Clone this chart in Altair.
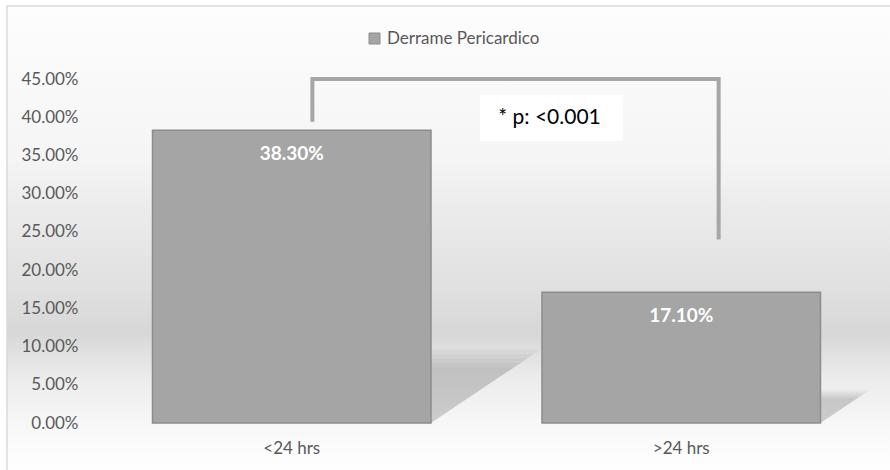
import altair as alt
import pandas as pd

# ---- data -------------------------------------------------------------
categories = ["<24 hrs", ">24 hrs"]
values = [0.383, 0.171]
series_name = "Derrame Pericardico"
y_ticks = [0, 0.05, 0.10, 0.15, 0.20, 0.25, 0.30, 0.35, 0.40, 0.45]

# significance bracket (x in category units: 0..2, y in proportion)
bracket_x = [0.553, 0.553, 1.596, 1.596]
bracket_y = [0.394, 0.45, 0.45, 0.24]
p_label = "* p: <0.001"
p_box = {"x": 0.983, "x2": 1.350, "y": 0.429, "y2": 0.369}
p_text_pos = {"x": 1.030, "y": 0.399}

# ---- styling ------------------------------------------------------------
FONT = "Lato"
BAR_FILL = "#a5a5a5"
BAR_STROKE = "#8c8c8c"
TEXT_GREY = "#595959"
PAD_INNER = 0.285
PAD_OUTER = PAD_INNER / 2
SHADOW_RISE = 0.22    # shadow height as a share of the bar value
SHADOW_SLANT = 0.645  # horizontal shift (category units) per unit of bar value

W, H = 779, 344
LEFT, TOP = 97, 79

bars = pd.DataFrame({"cat": categories, "v": values, "serie": series_name})

# perspective drop shadow behind each bar: a sheared copy of the bar,
# drawn a few times at slightly different sizes to soften its edges
shadow_rows = []
for layer, k in enumerate([0.86, 0.93, 1.0, 1.07, 1.14]):
    for i, v in enumerate(values):
        x0 = i + PAD_OUTER
        x1 = i + 1 - PAD_OUTER
        s = SHADOW_SLANT * v * k
        h = SHADOW_RISE * v * k
        for xx, lo, hi in [(x0, 0, 0), (x0 + s, 0, h), (x1, 0, h), (x1 + s, h, h)]:
            shadow_rows.append({"g": f"{layer}-{i}", "u": xx, "lo": lo, "hi": hi})
shadows = pd.DataFrame(shadow_rows)

bracket = pd.DataFrame({"u": bracket_x, "p": bracket_y, "o": range(len(bracket_x))})
one = pd.DataFrame({"a": [0]})

unit_x = alt.Scale(domain=[0, 2], nice=False, zero=False)
y_scale = alt.Scale(domain=[0, 0.45], nice=False)
y_axis = alt.Axis(values=y_ticks, format=".2%", domain=False, ticks=False,
                  grid=False, labelPadding=19, labelFontSize=17,
                  labelColor=TEXT_GREY, labelFont=FONT, zindex=1, title=None)


def y_enc(field):
    return alt.Y(field, scale=y_scale, axis=y_axis, title=None, stack=None)


# ---- background gradient and frame ---------------------------------------
bg_grad = alt.LinearGradient(
    gradient="linear", x1=0, x2=0, y1=0, y2=1,
    stops=[
        alt.GradientStop(color="#fdfdfd", offset=0.0),
        alt.GradientStop(color="#f5f5f5", offset=0.32),
        alt.GradientStop(color="#ececec", offset=0.42),
        alt.GradientStop(color="#e0e0e0", offset=0.60),
        alt.GradientStop(color="#d7d7d7", offset=0.69),
        alt.GradientStop(color="#ebebeb", offset=0.78),
        alt.GradientStop(color="#f7f7f7", offset=0.88),
        alt.GradientStop(color="#fdfdfd", offset=0.95),
        alt.GradientStop(color="#ffffff", offset=1.0),
    ],
)
frame_box = dict(
    x=alt.value(7 - LEFT), x2=alt.value(900 - LEFT),
    y=alt.value(6 - TOP), y2=alt.value(480 - TOP),
)
background = alt.Chart(one).mark_rect(fill=bg_grad).encode(**frame_box)
frame = alt.Chart(one).mark_rect(
    fillOpacity=0, stroke="#d9d9d9", strokeWidth=1.5
).encode(**frame_box)

# ---- shadows -------------------------------------------------------------
shadow_layer = alt.Chart(shadows).mark_area(color="black", opacity=0.035).encode(
    x=alt.X("u:Q", scale=unit_x, axis=None),
    y=y_enc("lo:Q"),
    y2="hi:Q",
    detail="g:N",
)

# ---- bars ----------------------------------------------------------------
x_band = alt.X(
    "cat:N", sort=categories, title=None,
    scale=alt.Scale(paddingInner=PAD_INNER, paddingOuter=PAD_OUTER),
    axis=alt.Axis(labelAngle=0, domain=False, ticks=False, labelPadding=17,
                  labelFontSize=17, labelColor=TEXT_GREY, labelFont=FONT,
                  zindex=1),
)
bar_layer = alt.Chart(bars).mark_bar(
    stroke=BAR_STROKE, strokeWidth=1.5
).encode(
    x=x_band,
    y=y_enc("v:Q"),
    color=alt.Color(
        "serie:N",
        scale=alt.Scale(range=[BAR_FILL]),
        legend=alt.Legend(
            title=None, orient="none", legendX=269, legendY=-49,
            symbolType="square", symbolSize=121, symbolStrokeColor=BAR_STROKE,
            symbolStrokeWidth=1, labelFontSize=17, labelColor=TEXT_GREY,
            labelFont=FONT, labelOffset=4, padding=0,
        ),
    ),
)
bar_text = alt.Chart(bars).mark_text(
    dy=24, baseline="middle", color="white", fontWeight="bold",
    fontSize=19, font=FONT,
).encode(
    x=alt.X("cat:N", sort=categories, axis=None,
            scale=alt.Scale(paddingInner=PAD_INNER, paddingOuter=PAD_OUTER)),
    y=y_enc("v:Q"),
    text=alt.Text("v:Q", format=".2%"),
)

# ---- significance bracket and p-value ------------------------------------
bracket_layer = alt.Chart(bracket).mark_line(
    color="#a6a6a6", strokeWidth=4, strokeCap="butt", strokeJoin="miter"
).encode(
    x=alt.X("u:Q", scale=unit_x, axis=None),
    y=y_enc("p:Q"),
    order="o:Q",
)
p_rect = alt.Chart(pd.DataFrame([p_box])).mark_rect(color="white").encode(
    x=alt.X("x:Q", scale=unit_x, axis=None), x2="x2:Q",
    y=y_enc("y:Q"), y2="y2:Q",
)
p_txt = alt.Chart(pd.DataFrame([{**p_text_pos, "t": p_label}])).mark_text(
    align="left", baseline="middle", fontSize=21, font=FONT, color="black"
).encode(
    x=alt.X("x:Q", scale=unit_x, axis=None),
    y=y_enc("y:Q"),
    text="t:N",
)

chart = alt.layer(
    background, shadow_layer, bar_layer, bar_text,
    bracket_layer, p_rect, p_txt, frame,
).resolve_scale(x="independent").properties(
    width=W, height=H,
    padding={"left": LEFT, "top": TOP, "right": 890 - LEFT - W, "bottom": 470 - TOP - H},
    autosize=alt.AutoSizeParams(type="none"),
).configure_view(stroke=None).configure(background="white")

chart.save("out.html", embed_options={"renderer": "svg", "actions": False})
